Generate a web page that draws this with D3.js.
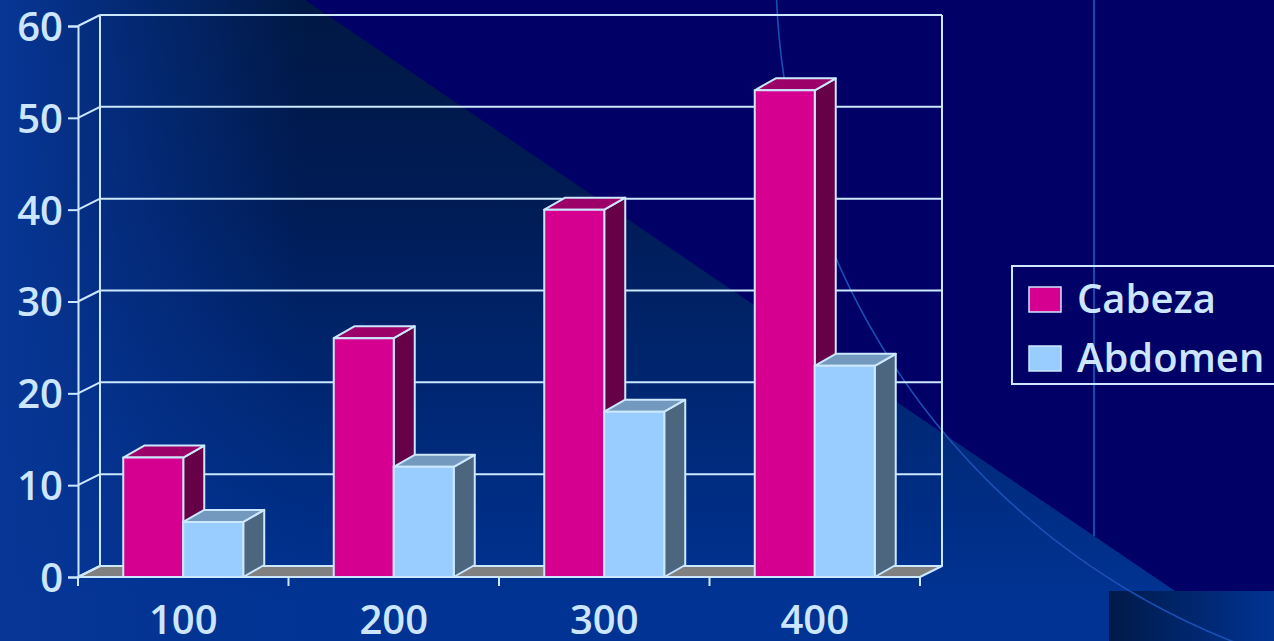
<!DOCTYPE html>
<html>
<head>
<meta charset="utf-8">
<script src="https://cdn.jsdelivr.net/npm/d3@7"></script>
<style>
  html, body { margin: 0; padding: 0; background: #000066; }
  svg { display: block; }
</style>
</head>
<body>
<svg id="chart" width="1274" height="641"></svg>
<script>
// Chart data
const categories = ["100", "200", "300", "400"];
const seriesNames = ["Cabeza", "Abdomen"];
const cabeza = [13, 26, 40, 53];
const abdomen = [6, 12, 18, 23];
const yTicks = [0, 10, 20, 30, 40, 50, 60];

const seriesValues = { Cabeza: cabeza, Abdomen: abdomen };
const palette = {
  Cabeza:  { front: "#d5008f", top: "#9c0069", side: "#660047" },
  Abdomen: { front: "#99ccff", top: "#7399bf", side: "#4c6680" }
};
const lineColor = "#cce8ff";
const textColor = "#cce6ff";
const fontFamily = "'Open Sans', 'DejaVu Sans', sans-serif";
const fontSize = 40;

const W = 1274, H = 641;
const svg = d3.select("#chart");

// ---------- slide background ----------
const defs = svg.append("defs");
const vGrad = defs.append("linearGradient").attr("id", "vGrad")
  .attr("gradientUnits", "userSpaceOnUse").attr("x1", 0).attr("y1", 0).attr("x2", 0).attr("y2", 600);
vGrad.append("stop").attr("offset", 0).attr("stop-color", "#001844");
vGrad.append("stop").attr("offset", 0.35).attr("stop-color", "#001c56");
vGrad.append("stop").attr("offset", 1).attr("stop-color", "#003393");

const hGrad = defs.append("linearGradient").attr("id", "hGrad")
  .attr("gradientUnits", "userSpaceOnUse").attr("x1", 0).attr("y1", 0).attr("x2", 300).attr("y2", 0);
hGrad.append("stop").attr("offset", 0).attr("stop-color", "#073696").attr("stop-opacity", 1);
hGrad.append("stop").attr("offset", 1).attr("stop-color", "#073696").attr("stop-opacity", 0);

const cornerGrad = defs.append("linearGradient").attr("id", "cornerGrad")
  .attr("x1", 0).attr("y1", 0).attr("x2", 1).attr("y2", 0);
cornerGrad.append("stop").attr("offset", 0).attr("stop-color", "#001a48");
cornerGrad.append("stop").attr("offset", 1).attr("stop-color", "#003393");

const bg = svg.append("g");
bg.append("rect").attr("width", W).attr("height", H).attr("fill", "#000066");

// thin vertical accent line
bg.append("line").attr("x1", 1094).attr("x2", 1094).attr("y1", 0).attr("y2", 560)
  .attr("stroke", "#1848a8").attr("stroke-width", 2);

const wedge = [[0, 0], [305, 0], [1175, 591], [1175, H], [0, H]];
bg.append("path").attr("d", d3.line()(wedge) + "Z").attr("fill", "url(#vGrad)");
bg.append("path").attr("d", d3.line()(wedge) + "Z").attr("fill", "url(#hGrad)");
bg.append("rect").attr("x", 1109).attr("y", 591).attr("width", W - 1109).attr("height", H - 591)
  .attr("fill", "url(#cornerGrad)");

// large thin arc sweeping down to the lower right
const arcCx = 1498, arcCy = -30, arcR = 722;
const arcPts = d3.range(-0.05, 1.25, 0.005).map(t => [
  arcCx - arcR * Math.cos(t),
  arcCy + arcR * Math.sin(t)
]);
bg.append("path").attr("d", d3.line().curve(d3.curveBasis)(arcPts))
  .attr("fill", "none").attr("stroke", "#1a4fb4").attr("stroke-width", 1.6);

// ---------- chart ----------
const x0 = 78, x1 = 920, yBase = 577, yTop = 26;
const wallDx = 22, wallDy = -11;   // depth of the back wall
const barDx = 21, barDy = -12;     // depth of each bar

const x = d3.scaleBand().domain(categories).range([x0, x1]).paddingInner(0).paddingOuter(0);
const bw = x.bandwidth();
const xs = d3.scaleBand().domain(seriesNames).range([bw * 0.215, bw * 0.785]).padding(0);
const y = d3.scaleLinear().domain([0, 60]).range([yBase, yTop]);

const chart = svg.append("g");

// floor
const floorPts = [[x0, y(0)], [x1, y(0)], [x1 + wallDx, y(0) + wallDy], [x0 + wallDx, y(0) + wallDy]];
chart.append("path").attr("d", d3.line()(floorPts) + "Z")
  .attr("fill", "#808080").attr("stroke", lineColor).attr("stroke-width", 2).attr("stroke-linejoin", "round");

// back wall gridlines and left-side diagonals
yTicks.forEach(t => {
  const yy = y(t);
  chart.append("line").attr("x1", x0 + wallDx).attr("x2", x1 + wallDx)
    .attr("y1", yy + wallDy).attr("y2", yy + wallDy)
    .attr("stroke", lineColor).attr("stroke-width", 2);
  chart.append("line").attr("x1", x0).attr("x2", x0 + wallDx)
    .attr("y1", yy).attr("y2", yy + wallDy)
    .attr("stroke", lineColor).attr("stroke-width", 2);
});
// wall verticals
[x0 + wallDx, x1 + wallDx].forEach(xx => {
  chart.append("line").attr("x1", xx).attr("x2", xx)
    .attr("y1", y(0) + wallDy).attr("y2", y(60) + wallDy)
    .attr("stroke", lineColor).attr("stroke-width", 2);
});

// front value axis
const yAxis = d3.axisLeft(y).tickValues(yTicks).tickSize(10).tickPadding(5).tickFormat(d3.format("d"));
const yAxisG = chart.append("g").attr("transform", `translate(${x0},0)`).call(yAxis);
yAxisG.select(".domain").attr("stroke", lineColor).attr("stroke-width", 2);
yAxisG.selectAll(".tick line").attr("stroke", lineColor).attr("stroke-width", 2);
yAxisG.selectAll(".tick text")
  .attr("fill", textColor).attr("font-family", fontFamily).attr("font-weight", 600)
  .attr("font-size", fontSize).attr("dy", "0.36em");

// category axis
const xAxis = d3.axisBottom(x).tickSize(0);
const xAxisG = chart.append("g").attr("transform", `translate(0,${yBase})`).call(xAxis);
xAxisG.select(".domain").remove();
xAxisG.selectAll(".tick text")
  .attr("fill", textColor).attr("font-family", fontFamily).attr("font-weight", 600)
  .attr("font-size", fontSize).attr("y", 57).attr("dy", 0);
// tick marks at category boundaries
const boundaries = categories.map(c => x(c)).concat([x1]);
chart.append("line").attr("x1", x0).attr("x2", x1).attr("y1", yBase).attr("y2", yBase)
  .attr("stroke", lineColor).attr("stroke-width", 2);
chart.selectAll(".xtick").data(boundaries).join("line")
  .attr("class", "xtick")
  .attr("x1", d => d).attr("x2", d => d).attr("y1", yBase).attr("y2", yBase + 9)
  .attr("stroke", lineColor).attr("stroke-width", 2);

// 3D bars
const bars = chart.append("g");
categories.forEach((cat, i) => {
  seriesNames.forEach(s => {
    const v = seriesValues[s][i];
    const bx = x(cat) + xs(s), w = xs.bandwidth();
    const yv = y(v), yb = y(0);
    const col = palette[s];
    const g = bars.append("g")
      .attr("stroke", lineColor).attr("stroke-width", 2).attr("stroke-linejoin", "round");
    g.append("path").attr("fill", col.side).attr("d", d3.line()([
      [bx + w, yv], [bx + w + barDx, yv + barDy], [bx + w + barDx, yb + barDy], [bx + w, yb]
    ]) + "Z");
    g.append("path").attr("fill", col.top).attr("d", d3.line()([
      [bx, yv], [bx + barDx, yv + barDy], [bx + w + barDx, yv + barDy], [bx + w, yv]
    ]) + "Z");
    g.append("rect").attr("fill", col.front)
      .attr("x", bx).attr("y", yv).attr("width", w).attr("height", yb - yv);
  });
});

// ---------- legend ----------
const legend = svg.append("g");
legend.append("rect").attr("x", 1012).attr("y", 266).attr("width", 300).attr("height", 118)
  .attr("fill", "none").attr("stroke", lineColor).attr("stroke-width", 2);
seriesNames.forEach((s, i) => {
  const top = 287 + i * 59;
  legend.append("rect").attr("x", 1029).attr("y", top).attr("width", 32).attr("height", 25)
    .attr("fill", palette[s].front).attr("stroke", lineColor).attr("stroke-width", 1.5);
  legend.append("text").attr("x", 1077).attr("y", top + 26)
    .attr("fill", textColor).attr("font-family", fontFamily).attr("font-weight", 600)
    .attr("font-size", fontSize).text(s);
});
</script>
</body>
</html>
